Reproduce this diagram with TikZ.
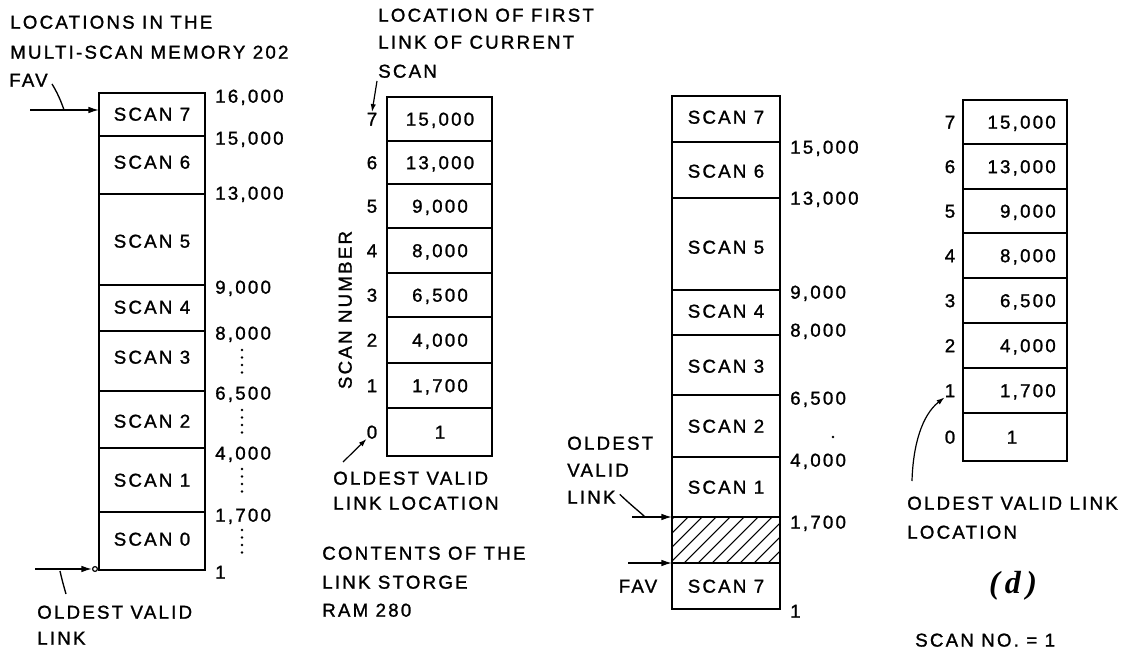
\documentclass[tikz,border=0pt]{standalone}
\usepackage{fontspec}
\setmainfont{Liberation Sans}[LetterSpace=12,FakeBold=1.3]
\newfontfamily\dserif{Liberation Serif}
\usetikzlibrary{arrows.meta}
\newcommand\dfont{\fontsize{14}{16}\selectfont}
\begin{document}
\begin{tikzpicture}[x=0.75pt,y=-0.75pt,
  every node/.style={font=\dfont, inner sep=0pt, text height=10pt, text depth=0pt},
  cellline/.style={line width=1.1pt},
  edgeline/.style={line width=2pt},
  arr/.style={line width=1pt,-{Latex[length=8pt,width=5pt]}},
  sarr/.style={line width=0.9pt,-{Latex[length=6pt,width=4pt]}},
  lead/.style={line width=1pt},
  lab/.style={anchor=west}
]
\useasboundingbox (0,0) rectangle (1140,649);

% ---------------- left column: multi-scan memory ----------------
\node[lab] (h1a) at (10,22) {LOCATIONS IN THE};
\node[lab] (h1b) at (10,52) {MULTI-SCAN MEMORY 202};
\node[lab] (fav) at (9,80) {FAV};

\draw[cellline] (99,93) rectangle (205,570);
\foreach \y in {136,194,285,331,391,448,512} \draw[cellline] (99,\y) -- (205,\y);
\draw[edgeline] (205,93) -- (205,570) -- (99,570);

\foreach \n/\y in {7/114,6/162,5/241,4/307,3/357,2/421,1/480,0/539}
  \node (L\n) at (152,\y) {SCAN \n};

\node[lab] (la16) at (215,96) {16,000};
\node[lab] (la15) at (215,138) {15,000};
\node[lab] (la13) at (215,193) {13,000};
\node[lab] (la9) at (215,287) {9,000};
\node[lab] (la8) at (215,333) {8,000};
\node[lab] (la65) at (215,393) {6,500};
\node[lab] (la4) at (215,453) {4,000};
\node[lab] (la17) at (215,515) {1,700};
\node[lab] (la1) at (215,572) {1};

\foreach \s in {350,410,469,530}
  \foreach \k in {0,1,2,3}
    \fill ({242},{\s+7.5*\k}) circle (1pt);

\coordinate (favS) at (30,110);
\coordinate (favE) at (99,110);
\coordinate (favL1) at (52,84);
\coordinate (favL2) at (64,110);
\draw[arr] (favS) -- (favE);
\draw[lead] (favL1) .. controls (57,92) and (61,101) .. (favL2);

\coordinate (ovS) at (35,569);
\coordinate (ovE) at (92,569);
\draw[arr] (ovS) -- (ovE);
\draw[line width=0.9pt,fill=white] (95,569) circle (1.8pt);
\coordinate (ovL1) at (60,571);
\coordinate (ovL2) at (66,594);
\draw[lead] (ovL1) .. controls (62,580) and (64,587) .. (ovL2);
\node[lab] (ov1) at (37,612) {OLDEST VALID};
\node[lab] (ov2) at (37,638) {LINK};

% ---------------- middle table: link storage RAM ----------------
\node[lab] (h2a) at (378,15) {LOCATION OF FIRST};
\node[lab] (h2b) at (378,42) {LINK OF CURRENT};
\node[lab] (h2c) at (378,71) {SCAN};

\draw[cellline] (387,97) rectangle (492,456);
\foreach \y in {141,184,228,273,317,363,408} \draw[cellline] (387,\y) -- (492,\y);
\draw[edgeline] (492,97) -- (492,456) -- (387,456);

\node (m7) at (440,119) {15,000};
\node (m6) at (440,162.5) {13,000};
\node (m5) at (440,206) {9,000};
\node (m4) at (440,250.5) {8,000};
\node (m3) at (440,295) {6,500};
\node (m2) at (440,340) {4,000};
\node (m1) at (440,385.5) {1,700};
\node (m0) at (440,432) {1};
\foreach \n/\y in {7/119,6/162.5,5/206,4/250.5,3/295,2/340,1/385.5,0/432}
  \node (mi\n) at (372,\y) {\n};

\node[rotate=90] (sn) at (345,310) {SCAN NUMBER};

\coordinate (cs1) at (377,81);
\draw[sarr] (cs1) -- (mi7.north);
\coordinate (ol1) at (343,462);
\draw[sarr] (ol1) -- (mi0.south west);

\node[lab] (ol2) at (333,478) {OLDEST VALID};
\node[lab] (ol3) at (333,503) {LINK LOCATION};
\node[lab] (ct1) at (322,553) {CONTENTS OF THE};
\node[lab] (ct2) at (322,582) {LINK STORGE};
\node[lab] (ct3) at (322,610) {RAM 280};

% ---------------- third column ----------------
\begin{scope}
  \clip (672,517) rectangle (780,563);
  \foreach \x in {600,614,...,800}
    \draw[line width=0.8pt] (\x,563) -- ({\x+46},517);
\end{scope}
\draw[cellline] (672,96) rectangle (780,609);
\foreach \y in {142,198,290,335,395,457,517,563} \draw[cellline] (672,\y) -- (780,\y);
\draw[edgeline] (780,96) -- (780,609) -- (672,609);

\node (t7) at (726,117) {SCAN 7};
\node (t6) at (726,171) {SCAN 6};
\node (t5) at (726,247) {SCAN 5};
\node (t4) at (726,311) {SCAN 4};
\node (t3) at (726,366) {SCAN 3};
\node (t2) at (726,426) {SCAN 2};
\node (t1) at (726,487) {SCAN 1};
\node (t7b) at (726,586) {SCAN 7};

\node[lab] (ra15) at (790,147) {15,000};
\node[lab] (ra13) at (790,198) {13,000};
\node[lab] (ra9) at (790,292) {9,000};
\node[lab] (ra8) at (790,330) {8,000};
\node[lab] (ra65) at (790,398) {6,500};
\node[lab] (ra4) at (790,460) {4,000};
\node[lab] (ra17) at (790,522) {1,700};
\node[lab] (ra1) at (790,611) {1};
\fill (833,437) circle (1pt);

\node[lab] (tv1) at (567,443) {OLDEST};
\node[lab] (tv2) at (567,470) {VALID};
\node[lab] (tv3) at (567,497) {LINK};
\coordinate (tvS) at (632,517);
\coordinate (tvE) at (672,517);
\draw[arr] (tvS) -- (tvE);
\coordinate (tvL) at (645,517);
\draw[lead] (tv3.east) ++(3pt,2pt) .. controls (633,507) and (640,512) .. (tvL);
\coordinate (tfS) at (628,563);
\coordinate (tfE) at (672,563);
\draw[arr] (tfS) -- (tfE);
\node (tfav) at (638,586) {FAV};

% ---------------- right table ----------------
\draw[cellline] (963,100) rectangle (1067,461);
\foreach \y in {144,189,233,278,323,368,413} \draw[cellline] (963,\y) -- (1067,\y);
\draw[edgeline] (1067,100) -- (1067,461) -- (963,461);

\node[anchor=east] (r7) at (1056,122) {15,000};
\node[anchor=east] (r6) at (1056,166.5) {13,000};
\node[anchor=east] (r5) at (1056,211) {9,000};
\node[anchor=east] (r4) at (1056,255.5) {8,000};
\node[anchor=east] (r3) at (1056,300.5) {6,500};
\node[anchor=east] (r2) at (1056,345.5) {4,000};
\node[anchor=east] (r1) at (1056,390.5) {1,700};
\node (r0) at (1012,437) {1};
\foreach \n/\y in {7/122,6/166.5,5/211,4/255.5,3/300.5,2/345.5,1/390.5,0/437}
  \node (ri\n) at (950,\y) {\n};

\coordinate (rvS) at (912,481);
\draw[sarr] (rvS) .. controls (913,445) and (922,415) .. (ri1.south west);
\node[lab] (rv1) at (907,503) {OLDEST VALID LINK};
\node[lab] (rv2) at (907,532) {LOCATION};

\node[font=\dserif\bfseries\itshape\fontsize{24}{26}\selectfont, text height=17pt, text depth=5pt] (dlab) at (1013,585) {(\,d\,)};

\node[anchor=north west] (sno) at (915,633) {SCAN NO. = 1};
\end{tikzpicture}
\end{document}
